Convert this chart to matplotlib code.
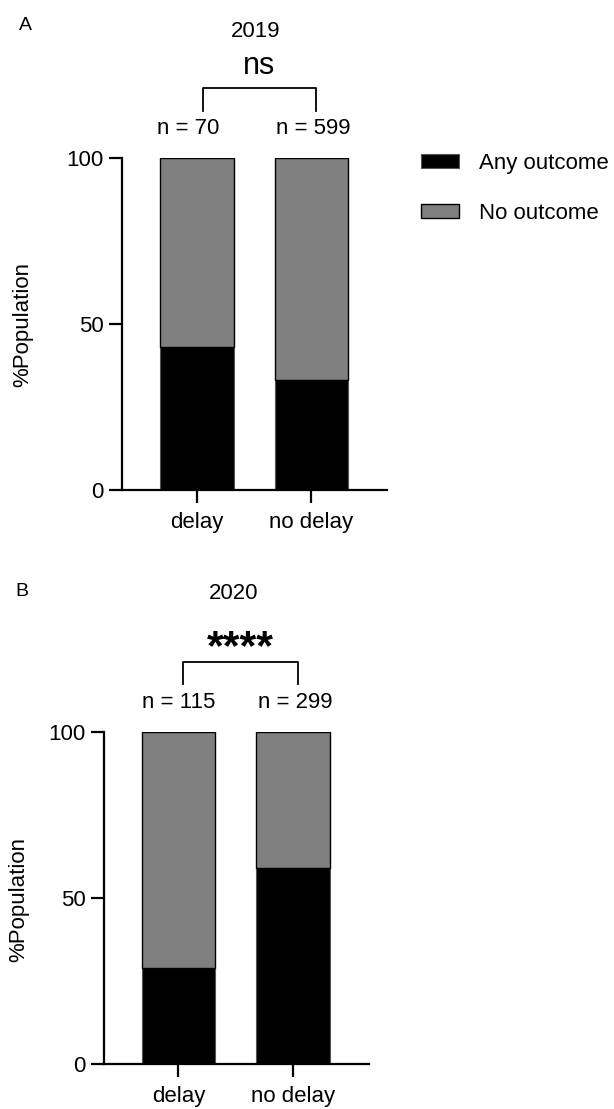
import numpy as np
import matplotlib.pyplot as plt

plt.rcParams['font.family'] = ['Liberation Sans', 'DejaVu Sans']

# data (% of population)
groups = ['delay', 'no delay']
any_2019 = [43, 33]
any_2020 = [29, 59]
n_2019 = [70, 599]
n_2020 = [115, 299]
sig_2019 = 'ns'
sig_2020 = '****'

GRAY = '#808080'
W, H = 614, 1109

fig = plt.figure(figsize=(W / 100, H / 100), dpi=100)


def panel(rect, any_vals, ns, sig, year, letter, letter_xy, ylab_xy,
          n_x, title_x, brk, sig_size, sig_weight, sig_y, title_y):
    ax = fig.add_axes(rect)
    x = np.arange(len(groups))
    anyv = np.array(any_vals)
    nov = 100 - anyv
    ax.bar(x, anyv, width=0.645, color='black', edgecolor='#555555', linewidth=0.8,
           label='Any outcome')
    ax.bar(x, nov, bottom=anyv, width=0.645, color=GRAY, edgecolor='black',
           linewidth=1.0, label='No outcome')
    ax.set_xlim(-0.655, 1.66)
    ax.set_ylim(0, 100)
    ax.set_yticks([0, 50, 100])
    ax.set_xticks(x)
    ax.set_xticklabels(groups)
    for s in ['top', 'right']:
        ax.spines[s].set_visible(False)
    for s in ['left', 'bottom']:
        ax.spines[s].set_linewidth(1.6)
    ax.tick_params(axis='both', length=9.5, width=1.6, labelsize=16, color='black')
    ax.tick_params(axis='y', pad=3.5)
    ax.tick_params(axis='x', pad=6)

    # n labels
    for xi, dx, n in zip(x, n_x, ns):
        ax.text(xi + dx, 108.8, f'n = {n}', ha='center', va='center', fontsize=16,
                clip_on=False)
    # bracket
    ax.plot([brk[0], brk[0], brk[1], brk[1]], [114.3, 121.1, 121.1, 114.3],
            color='black', lw=1.3, clip_on=False)
    ax.text((brk[0] + brk[1]) / 2, sig_y, sig, ha='center', va='center',
            fontsize=sig_size, fontweight=sig_weight, clip_on=False)
    ax.text(title_x, title_y, year, ha='center', va='center', fontsize=16, clip_on=False)

    fig.text(letter_xy[0] / W, 1 - letter_xy[1] / H, letter, ha='center', va='center',
             fontsize=14)
    fig.text(ylab_xy[0] / W, 1 - ylab_xy[1] / H, '%Population', rotation=90,
             ha='center', va='center', fontsize=16)
    return ax


axA = panel([122 / W, 1 - 490 / H, 265 / W, 332 / H], any_2019, n_2019, sig_2019,
            '2019', 'A', (25, 26), (22.5, 324), [-0.076, 0.02], 0.513,
            (0.052, 1.04), 22, 'normal', 127.8, 138.1)
axB = panel([103.5 / W, 1 - 1064.3 / H, 265 / W, 332.6 / H], any_2020, n_2020, sig_2020,
            '2020', 'B', (22, 592), (18.5, 899), [0.0, 0.02], 0.478,
            (0.038, 1.04), 31, 'bold', 125.2, 141.7)

# legend (panel A only)
handles, labels = axA.get_legend_handles_labels()
fig.legend(handles, labels, loc='upper left', bbox_to_anchor=(412 / W, 1 - 144 / H),
           frameon=False, fontsize=16, handlelength=1.71, handleheight=0.63,
           handletextpad=0.9, labelspacing=1.3, borderaxespad=0)

fig.savefig('out.png', dpi=100)
